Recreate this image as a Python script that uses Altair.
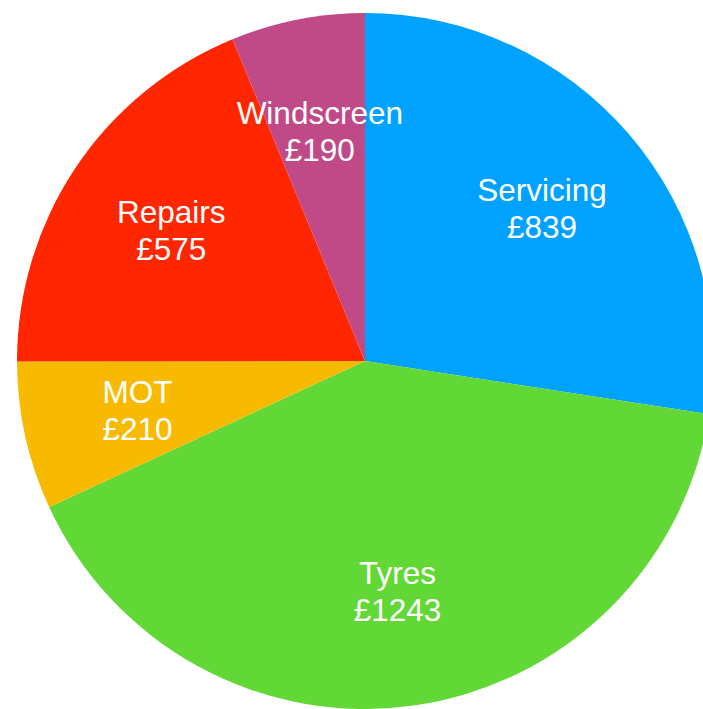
import altair as alt
import pandas as pd

categories = ["Servicing", "Tyres", "MOT", "Repairs", "Windscreen"]
values = [839, 1243, 210, 575, 190]
colors = ["#00A2FF", "#61D836", "#F8BA00", "#FF2600", "#C04A87"]

df = pd.DataFrame({
    "category": categories,
    "value": values,
    "order": list(range(len(categories))),
})
df["label"] = df.apply(lambda r: [r["category"], "£" + str(r["value"])], axis=1)

base = alt.Chart(df).encode(
    theta=alt.Theta("value:Q", stack=True),
    order=alt.Order("order:Q"),
    x=alt.value(365),
    y=alt.value(361),
)

pie = base.mark_arc(radius=348, stroke=None).encode(
    color=alt.Color("category:N", scale=alt.Scale(domain=categories, range=colors), legend=None)
)

text = base.mark_text(
    radius=233, font="Liberation Sans", fontSize=31.5, color="white",
    align="center", baseline="middle", lineHeight=37, dy=-17
).encode(text="label")

chart = (pie + text).properties(width=703, height=709, padding=0, autosize="none").configure_view(strokeWidth=0)

chart.save("out.html", embed_options={"renderer": "svg", "actions": False})
